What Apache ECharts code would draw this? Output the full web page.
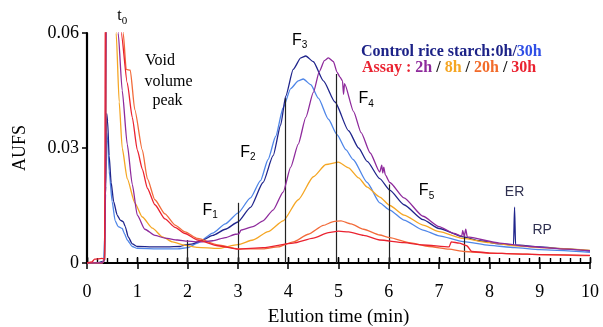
<!DOCTYPE html>
<html>
<head>
<meta charset="utf-8">
<script src="https://cdn.jsdelivr.net/npm/echarts@6/dist/echarts.min.js"></script>
<style>
  html, body { margin: 0; padding: 0; background: #fff; }
  #chart { width: 603px; height: 327px; }
</style>
</head>
<body>
<div id="chart"></div>
<script>
// elution time (min), AUFS
const control0h = [[0,0],[0.2,0],[0.34,0.0005],[0.37,0.02],[0.39,0.039],[0.41,0.037],[0.44,0.028],[0.48,0.021],[0.53,0.016],[0.6,0.0125],[0.66,0.0112],[0.72,0.0108],[0.76,0.0095],[0.82,0.0068],[0.9,0.005],[1.0,0.0043],[1.3,0.0042],[1.6,0.0042],[1.85,0.0043],[1.95,0.0047],[2.1,0.005],[2.3,0.006],[2.5,0.0072],[2.75,0.0088],[3.0,0.0107],[3.25,0.0145],[3.5,0.021],[3.7,0.028],[3.85,0.036],[3.95,0.0435],[4.1,0.0505],[4.25,0.0535],[4.35,0.054],[4.5,0.0525],[4.7,0.0475],[4.93,0.042],[5.2,0.0345],[5.4,0.030],[5.57,0.0265],[5.82,0.022],[6.02,0.019],[6.3,0.0152],[6.68,0.0113],[7.0,0.009],[7.48,0.0068],[7.8,0.0058],[8.2,0.005],[8.48,0.0047],[8.5,0.0146],[8.52,0.0047],[9.0,0.0042],[9.5,0.0037],[10,0.0032]]
const control30h = [[0,0],[0.2,0],[0.34,0.0005],[0.37,0.018],[0.39,0.034],[0.41,0.032],[0.44,0.024],[0.5,0.016],[0.56,0.011],[0.62,0.0095],[0.7,0.009],[0.75,0.0075],[0.8,0.006],[0.9,0.0043],[1.0,0.0038],[1.4,0.0037],[1.8,0.0037],[2.0,0.004],[2.2,0.0052],[2.5,0.0078],[2.75,0.0102],[3.0,0.013],[3.25,0.017],[3.45,0.0215],[3.6,0.027],[3.75,0.033],[3.9,0.0405],[4.05,0.0455],[4.2,0.0475],[4.3,0.048],[4.45,0.0465],[4.6,0.043],[4.8,0.0375],[4.97,0.0335],[5.15,0.0295],[5.29,0.027],[5.57,0.021],[5.82,0.0157],[6.02,0.0138],[6.3,0.0112],[6.68,0.0086],[7.0,0.0071],[7.48,0.0056],[8.0,0.0046],[8.5,0.004],[9,0.0035],[10,0.0028]]
const assay2h = [[0,0],[0.3,0],[0.36,0.001],[0.39,0.09],[0.6,0.09],[0.62,0.06],[0.7,0.045],[0.8,0.031],[0.9,0.0205],[1.0,0.0125],[1.15,0.0088],[1.35,0.0072],[1.55,0.0065],[1.8,0.006],[2.0,0.0057],[2.25,0.0055],[2.5,0.0058],[2.75,0.0066],[2.95,0.0075],[3.02,0.0076],[3.06,0.0086],[3.3,0.0095],[3.5,0.011],[3.7,0.0138],[3.9,0.0185],[4.05,0.025],[4.2,0.031],[4.35,0.038],[4.5,0.0445],[4.62,0.050],[4.72,0.0528],[4.8,0.0535],[4.9,0.0525],[4.97,0.0498],[5.03,0.0485],[5.08,0.0475],[5.1,0.044],[5.12,0.0468],[5.3,0.0395],[5.45,0.034],[5.63,0.0287],[5.82,0.0237],[5.86,0.0255],[5.88,0.0235],[5.9,0.025],[5.93,0.023],[6.02,0.021],[6.3,0.017],[6.68,0.0122],[7.0,0.0095],[7.3,0.0077],[7.45,0.007],[7.47,0.0085],[7.5,0.0069],[7.53,0.0088],[7.56,0.0068],[8.2,0.0052],[8.8,0.0043],[9.4,0.0037],[10,0.0032]]
const assay8h = [[0,0],[0.3,0],[0.36,0.001],[0.39,0.09],[0.55,0.09],[0.58,0.06],[0.64,0.042],[0.7,0.030],[0.8,0.022],[0.95,0.0157],[1.1,0.012],[1.3,0.0091],[1.5,0.0068],[1.7,0.0055],[1.95,0.0046],[2.2,0.0041],[2.6,0.0038],[3.0,0.0048],[3.3,0.006],[3.6,0.0082],[3.9,0.011],[4.2,0.0165],[4.5,0.0225],[4.75,0.0257],[5.0,0.0263],[5.2,0.0248],[5.4,0.0222],[5.57,0.0198],[5.82,0.0172],[6.02,0.015],[6.3,0.0125],[6.68,0.0099],[7.0,0.0082],[7.48,0.0064],[8,0.0053],[8.5,0.0045],[9,0.004],[10,0.0033]]
const assay20h = [[0,0],[0.3,0],[0.36,0.001],[0.39,0.09],[0.7,0.09],[0.72,0.06],[0.78,0.0505],[0.86,0.0503],[0.95,0.04],[1.1,0.0295],[1.2,0.022],[1.35,0.0165],[1.55,0.0128],[1.75,0.0099],[1.95,0.0081],[2.2,0.0064],[2.6,0.0047],[3.0,0.0037],[3.5,0.0037],[3.8,0.0042],[4.1,0.0055],[4.4,0.0075],[4.7,0.0098],[4.9,0.0108],[5.05,0.011],[5.25,0.0102],[5.5,0.0088],[5.82,0.0073],[6.02,0.0066],[6.4,0.0053],[6.8,0.0043],[7.2,0.0036],[7.5,0.003],[8.0,0.0026],[8.5,0.0024],[9,0.0022],[10,0.0019]]
const assay30h = [[0,0],[0.1,0.0003],[0.15,0.001],[0.3,0.0012],[0.35,0.001],[0.37,0.09],[0.66,0.09],[0.68,0.06],[0.8,0.047],[0.9,0.038],[1.0,0.0295],[1.1,0.0245],[1.2,0.0195],[1.35,0.0152],[1.55,0.0115],[1.75,0.0093],[1.95,0.0077],[2.2,0.006],[2.6,0.0045],[3.0,0.0036],[3.5,0.004],[4.1,0.0052],[4.5,0.0065],[4.8,0.0079],[5.0,0.0083],[5.2,0.0081],[5.5,0.0072],[5.82,0.006],[6.3,0.0053],[6.68,0.0047],[7.2,0.0042],[7.24,0.0055],[7.4,0.0052],[7.55,0.0045],[7.65,0.003],[8,0.0026],[8.5,0.0024],[9,0.0022],[10,0.002]]

// fraction cut lines: time, top value
const cutTimes = [2, 3, 3.94, 4.96, 6, 7.5]
const cutTops = [0.006, 0.0157, 0.043, 0.0493, 0.0205, 0.0073]
const voidTime = 0.56
const voidTop = 0.065

// annotations: x, y, text, subscript, kind
const noteX = [0.7, 1.45, 1.62, 1.6, 4.23, 5.55, 3.2, 2.45, 6.75, 8.5, 9.05]
const noteY = [0.0645, 0.0527, 0.0472, 0.0424, 0.058, 0.0428, 0.0289, 0.0138, 0.0188, 0.0185, 0.0086]
const noteText = ['t', 'Void', 'volume', 'peak', 'F', 'F', 'F', 'F', 'F', 'ER', 'RP']
const noteSub = ['0', '', '', '', '3', '4', '2', '1', '5', '', '']
const noteKind = ['serif', 'serif', 'serif', 'serif', 'sans', 'sans', 'sans', 'sans', 'sans', 'small', 'small']

const xTicks = [0, 1, 2, 3, 4, 5, 6, 7, 8, 9, 10]
const yTicks = [0, 0.03, 0.06]

const serif = 'Liberation Serif'
const sans = 'Liberation Sans'
const ink = '#000'

const chart = echarts.init(document.getElementById('chart'), null, { renderer: 'canvas' })

const curve = (name, data, color, z) => ({
  name,
  type: 'line',
  data,
  z,
  showSymbol: false,
  symbol: 'none',
  smooth: 0.2,
  smoothMonotone: 'x',
  clip: true,
  lineStyle: { color, width: 1.3 },
  animation: false
})

const kindStyle = {
  serif: {
    m: { fontFamily: serif, fontSize: 16, color: ink, textBorderWidth: 0 },
    s: { fontFamily: serif, fontSize: 11, color: ink, textBorderWidth: 0, padding: [10, 0, 0, 0] }
  },
  sans: {
    m: { fontFamily: sans, fontSize: 16, color: ink, textBorderWidth: 0 },
    s: { fontFamily: sans, fontSize: 10, color: ink, textBorderWidth: 0, padding: [10, 0, 0, 0] }
  },
  small: {
    m: { fontFamily: sans, fontSize: 14, color: '#2f3050', textBorderWidth: 0 },
    s: { fontSize: 9 }
  }
}

const notes = noteX.map((x, i) => ({
  value: [x, noteY[i]],
  label: {
    show: true,
    position: 'inside',
    color: ink,
    opacity: 1,
    textBorderWidth: 0,
    formatter: '{m|' + noteText[i] + '}' + (noteSub[i] ? '{s|' + noteSub[i] + '}' : ''),
    rich: kindStyle[noteKind[i]]
  }
}))

const cutLines = cutTimes.map((t, i) => [{ coord: [t, 0] }, { coord: [t, cutTops[i]] }])

const hiddenX = (interval, inside, length) => ({
  type: 'value',
  min: 0,
  max: 10,
  interval,
  position: 'bottom',
  axisLine: { show: false },
  axisTick: { show: true, inside, length, lineStyle: { color: ink, width: 1.4 } },
  axisLabel: { show: false },
  splitLine: { show: false }
})

const legendFont = { fontFamily: serif, fontWeight: 'bold', fontSize: 16 }
const legendPart = c => Object.assign({ fill: c, color: c }, legendFont)

const option = {
  backgroundColor: '#fff',
  animation: false,
  grid: { left: 87, right: 13, top: 33, bottom: 64, containLabel: false, outerBoundsMode: 'none' },
  xAxis: [
    {
      type: 'value',
      min: 0,
      max: 10,
      interval: 1,
      position: 'bottom',
      name: 'Elution time (min)',
      nameLocation: 'middle',
      nameGap: 45,
      nameTextStyle: { fontFamily: serif, fontSize: 19, color: ink },
      axisLine: { lineStyle: { color: ink, width: 2 } },
      axisTick: { inside: false, length: 6, lineStyle: { color: ink, width: 1.5 } },
      axisLabel: {
        margin: 20,
        fontFamily: serif,
        fontSize: 18,
        color: ink,
        formatter: v => (xTicks.includes(v) ? String(v) : '')
      },
      splitLine: { show: false }
    },
    hiddenX(1, true, 6),
    hiddenX(0.2, true, 5)
  ],
  yAxis: {
    type: 'value',
    min: 0,
    max: 0.06,
    interval: 0.03,
    name: 'AUFS',
    nameLocation: 'middle',
    nameGap: 58,
    nameTextStyle: { fontFamily: serif, fontSize: 18, color: ink },
    axisLine: { show: true, lineStyle: { color: ink, width: 2.2 } },
    axisTick: { show: true, inside: false, length: 5, lineStyle: { color: ink, width: 1.5 } },
    axisLabel: {
      margin: 8,
      fontFamily: serif,
      fontSize: 18,
      color: ink,
      formatter: v => (yTicks.includes(v) ? String(v) : '')
    },
    splitLine: { show: false }
  },
  graphic: [
    {
      type: 'text',
      left: 361,
      top: 44,
      style: {
        text: '{n|Control rice starch:0h/}{b|30h}',
        rich: { n: legendPart('#1c2287'), b: legendPart('#2f4fe6') }
      }
    },
    {
      type: 'text',
      left: 362,
      top: 60,
      style: {
        text: '{a|Assay : }{p|2h}{k| / }{y|8h}{k| / }{o|20h}{k| / }{r|30h}',
        rich: {
          a: legendPart('#ea2230'),
          p: legendPart('#8e2a9c'),
          k: legendPart('#111'),
          y: legendPart('#f5a623'),
          o: legendPart('#f26b2a'),
          r: legendPart('#ea2230')
        }
      }
    }
  ],
  series: [
    {
      name: 'cuts',
      type: 'line',
      data: [],
      clip: false,
      z: 1,
      markLine: {
        silent: true,
        symbol: 'none',
        label: { show: false },
        animation: false,
        data: cutLines.concat([
          [
            { coord: [voidTime, 0], lineStyle: { color: '#888', type: 'dotted', width: 1.3 } },
            { coord: [voidTime, voidTop] }
          ]
        ]),
        lineStyle: { color: '#222', type: 'solid', width: 1.2 }
      }
    },
    curve('Control 30h', control30h, '#4f86e8', 2),
    curve('Control 0h', control0h, '#20258c', 3),
    curve('Assay 8h', assay8h, '#f5a623', 4),
    curve('Assay 20h', assay20h, '#f26b3a', 5),
    curve('Assay 2h', assay2h, '#8e2a9c', 6),
    curve('Assay 30h', assay30h, '#ea2230', 7),
    {
      name: 'notes',
      type: 'scatter',
      data: notes,
      symbolSize: 0,
      itemStyle: { opacity: 1 },
      clip: false,
      silent: true,
      z: 10,
      animation: false
    }
  ]
}

chart.setOption(option)
</script>
</body>
</html>
